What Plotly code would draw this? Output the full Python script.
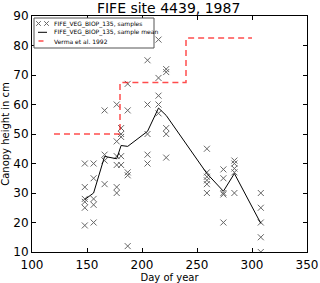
import plotly.graph_objects as go

# Sample observations (day of year -> canopy heights in cm)
sample_days = [148]*6 + [156]*5 + [166]*4 + [177]*6 + [181]*5 + [187]*5 + [205]*5 + [215]*5 + [222]*5 + [259]*6 + [274]*5 + [284]*5 + [308]*5
sample_heights = [40, 32, 28, 27, 25, 19,
                  40, 35, 28, 26, 20,
                  58, 43, 41, 33,
                  60, 47.5, 42.5, 39.5, 32, 30,
                  52, 50, 49, 42.5, 39.5,
                  67, 58, 37, 36, 12,
                  75, 60, 50, 43, 40,
                  82, 69, 63, 60, 57,
                  72, 71, 52, 50, 42,
                  45, 37, 35.5, 34.3, 33, 30,
                  38, 35, 30, 29.5, 20,
                  41, 40, 38.3, 37, 30,
                  30, 25, 20, 15, 10]

# Sample mean line
mean_days = [148, 156, 166, 177, 181, 187, 205, 215, 222, 259, 274, 284, 308]
mean_heights = [27.8, 30, 42.4, 41.6, 46.1, 45.8, 50.9, 58.8, 56.3, 36.6, 30.6, 36.6, 19.7]

# Verma et al. 1992 step values
verma_days = [120, 180, 180, 240, 240, 300]
verma_heights = [50, 50, 67.5, 67.5, 82.5, 82.5]

x_ticks = [100, 150, 200, 250, 300, 350]
y_ticks = [10, 20, 30, 40, 50, 60, 70, 80, 90]

legend_labels = ["FIFE_VEG_BIOP_135, samples",
                 "FIFE_VEG_BIOP_135, sample mean",
                 "Verma et al. 1992"]

FONT = "DejaVu Sans"
GRAY = "#666666"
RED = "rgba(255,0,0,0.7)"

W, H = 320, 283
ML, MR, MT, MB = 32, 13, 16, 31
PW, PH = W - ML - MR, H - MT - MB

fig = go.Figure()
fig.add_trace(go.Scatter(
    x=sample_days, y=sample_heights, mode="markers", name=legend_labels[0],
    marker=dict(symbol="x-thin", size=6, line=dict(color=GRAY, width=1), color=GRAY),
))
fig.add_trace(go.Scatter(
    x=mean_days, y=mean_heights, mode="lines", name=legend_labels[1],
    line=dict(color="black", width=1),
))
fig.add_trace(go.Scatter(
    x=verma_days, y=verma_heights, mode="lines", name=legend_labels[2],
    line=dict(color=RED, width=1.5, dash="6px,4px"),
))

axis_common = dict(
    showline=True, linecolor="black", linewidth=1, mirror="ticks", automargin=False,
    ticks="inside", ticklen=4, tickcolor="black", showgrid=False, zeroline=False,
    tickfont=dict(family=FONT, size=12, color="black"),
)

# Legend box (matplotlib-style, drawn in paper coordinates)
def px(xp):
    return (xp - ML) / PW

def py(yp):
    return (H - MB - yp) / PH

shapes = [dict(type="rect", xref="paper", yref="paper",
               x0=px(34), x1=px(154), y0=py(48), y1=py(18),
               line=dict(color="#555555", width=1), fillcolor="white", layer="above")]
row_y = [23.5, 32.3, 41.0]
# sample key: two x markers
for cx in (38.5, 46.5):
    d = 2.3
    shapes.append(dict(type="line", xref="paper", yref="paper",
                       x0=px(cx - d), x1=px(cx + d), y0=py(row_y[0] - d), y1=py(row_y[0] + d),
                       line=dict(color=GRAY, width=1), layer="above"))
    shapes.append(dict(type="line", xref="paper", yref="paper",
                       x0=px(cx - d), x1=px(cx + d), y0=py(row_y[0] + d), y1=py(row_y[0] - d),
                       line=dict(color=GRAY, width=1), layer="above"))
shapes.append(dict(type="line", xref="paper", yref="paper",
                   x0=px(38), x1=px(47), y0=py(row_y[1]), y1=py(row_y[1]),
                   line=dict(color="black", width=1), layer="above"))
shapes.append(dict(type="line", xref="paper", yref="paper",
                   x0=px(38.5), x1=px(43.5), y0=py(row_y[2]), y1=py(row_y[2]),
                   line=dict(color=RED, width=1.5), layer="above"))

annotations = [dict(text=lab, xref="paper", yref="paper", x=px(52), y=py(ry),
                    xanchor="left", yanchor="middle", showarrow=False,
                    font=dict(family=FONT, size=6, color="black"))
               for lab, ry in zip(legend_labels, row_y)]

fig.update_layout(
    width=W, height=H,
    margin=dict(l=ML, r=MR, t=MT, b=MB),
    paper_bgcolor="white", plot_bgcolor="white",
    showlegend=False,
    title=dict(text="FIFE site 4439, 1987", x=0.527, xanchor="center", y=0.972, yanchor="middle",
               font=dict(family=FONT, size=14, color="black")),
    xaxis=dict(range=[100, 350], tickvals=x_ticks, ticklabelstandoff=2,
               title=dict(text="Day of year", font=dict(family=FONT, size=10, color="black")),
               **axis_common),
    yaxis=dict(range=[10, 90], tickvals=y_ticks,
               title=dict(text="Canopy height in cm", font=dict(family=FONT, size=10, color="black")),
               **axis_common),
    shapes=shapes,
    annotations=annotations,
)

fig.write_html("out.html", config={"displayModeBar": False},
               post_script="document.body.style.margin='0';document.body.style.overflow='hidden';")
